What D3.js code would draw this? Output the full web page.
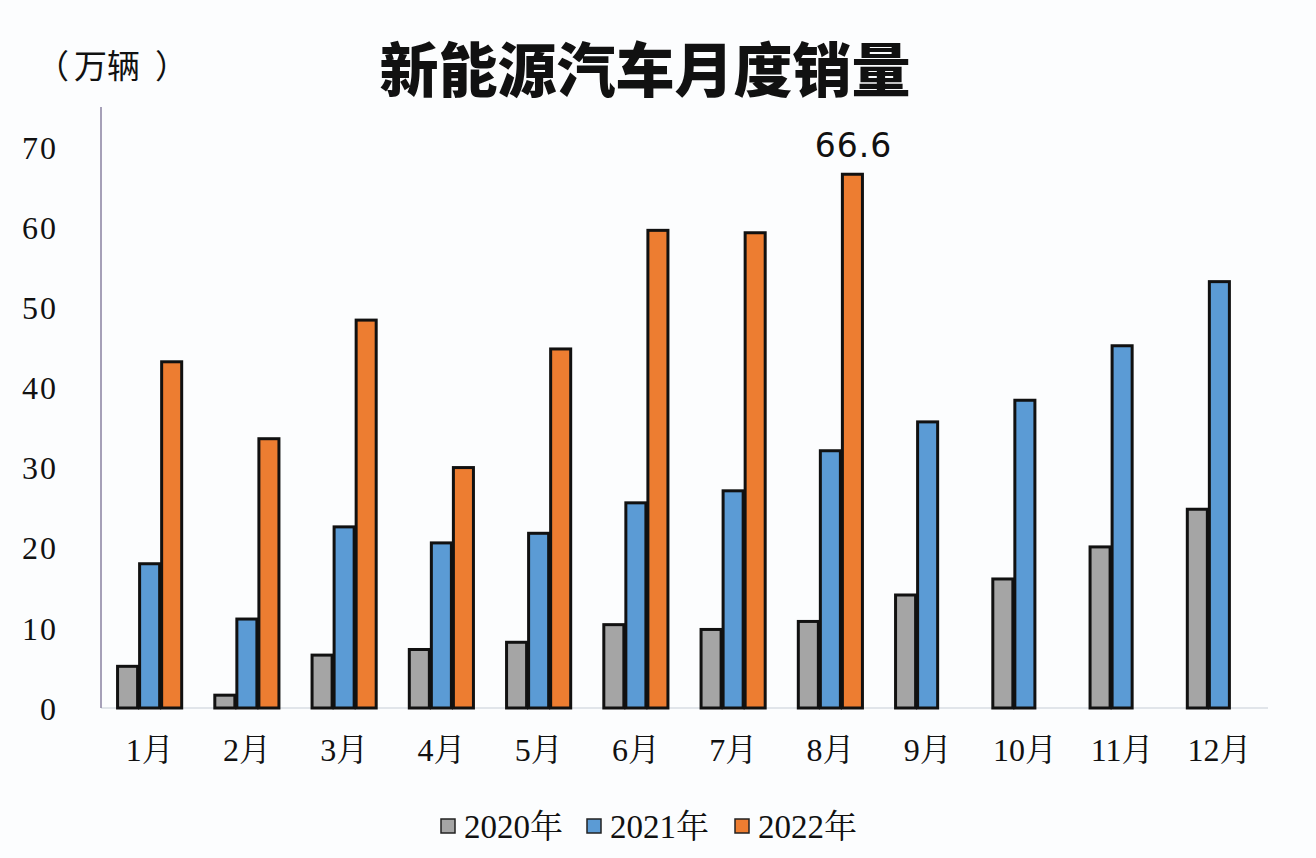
<!DOCTYPE html>
<html><head><meta charset="utf-8">
<script src="https://cdn.jsdelivr.net/npm/d3@7"></script>
<style>html,body{margin:0;padding:0;background:#fcfdfe;}</style>
</head><body>
<svg id="c" width="1316" height="858"></svg>
<script>
const months = ["1月","2月","3月","4月","5月","6月","7月","8月","9月","10月","11月","12月"];
const seriesNames = ["2020年","2021年","2022年"];
const sales2020 = [5.2,1.6,6.6,7.3,8.2,10.4,9.8,10.8,14.1,16.1,20.1,24.8];
const sales2021 = [18.0,11.1,22.6,20.6,21.8,25.6,27.1,32.1,35.7,38.4,45.2,53.2];
const sales2022 = [43.2,33.6,48.4,30.0,44.8,59.6,59.3,66.6,null,null,null,null];
const yTicks = [0,10,20,30,40,50,60,70];
const colors = ["#a5a5a5","#5b9bd5","#ed7d31"];
const labelled = {series:2, index:7, text:"66.6"};

const svg = d3.select("#c");
const x = d3.scaleBand().domain(months).range([101,1268]).paddingInner(0.32).paddingOuter(0.16);
const x1 = d3.scaleBand().domain(seriesNames).range([0,x.bandwidth()]);
const y = d3.scaleLinear().domain([0,70]).range([708,147]);

const serif = "'Liberation Serif','Times New Roman','Noto Serif CJK SC','Noto Sans CJK SC',serif";

svg.append("line").attr("x1",101).attr("x2",1268).attr("y1",y(0)).attr("y2",y(0))
  .attr("stroke","#d9dde3").attr("stroke-width",1.5);
svg.append("line").attr("x1",101).attr("x2",101).attr("y1",107).attr("y2",y(0))
  .attr("stroke","#8a80a0").attr("stroke-width",1.5);

const yAxis = d3.axisLeft(y).tickValues(yTicks).tickSize(0).tickPadding(0);
const ga = svg.append("g").attr("transform","translate(58,0)").call(yAxis);
ga.select(".domain").remove();
ga.selectAll("text").attr("font-family",serif).attr("font-size",32).attr("letter-spacing",2)
  .attr("fill","#111").attr("dy","0.35em");

const xAxis = d3.axisBottom(x).tickSize(0).tickPadding(0);
const gx = svg.append("g").attr("transform","translate(0,750)").call(xAxis);
gx.select(".domain").remove();
gx.selectAll("text").attr("font-family",serif).attr("font-size",32).attr("fill","#111").attr("dy","0.35em");

const data = [sales2020, sales2021, sales2022];
data.forEach((arr,si)=>{
  svg.append("g").selectAll("rect").data(arr.map((v,i)=>({v,i})).filter(d=>d.v!=null))
    .join("rect")
    .attr("x",d=>x(months[d.i])+x1(seriesNames[si])+1)
    .attr("width",x1.bandwidth()-2)
    .attr("y",d=>y(d.v))
    .attr("height",d=>y(0)-y(d.v))
    .attr("fill",colors[si]).attr("stroke","#111").attr("stroke-width",3);
});

svg.append("text")
  .attr("x",x(months[labelled.index])+x1(seriesNames[labelled.series])+x1.bandwidth()/2+1)
  .attr("y",y(data[labelled.series][labelled.index])-17)
  .attr("text-anchor","middle").attr("font-family","'DejaVu Sans','Noto Sans',sans-serif")
  .attr("font-size",33).attr("letter-spacing",1).attr("fill","#111").text(labelled.text);

svg.append("text").attr("x",645).attr("y",92).attr("text-anchor","middle")
  .attr("font-family","'Noto Sans CJK SC',sans-serif").attr("font-weight",900)
  .attr("font-size",59).attr("fill","#111").text("新能源汽车月度销量");

const unit = svg.append("text").attr("y",78)
  .attr("font-family","'Noto Sans CJK SC',sans-serif").attr("font-weight",400)
  .attr("font-size",33).attr("fill","#111");
unit.append("tspan").attr("x",36).text("（");
unit.append("tspan").attr("x",74).text("万辆");
unit.append("tspan").attr("x",155).text("）");

const leg = svg.append("g").attr("transform","translate(441,826)");
const legX = [0,146,294];
seriesNames.forEach((n,i)=>{
  const g = leg.append("g").attr("transform",`translate(${legX[i]},0)`);
  g.append("rect").attr("x",0).attr("y",-7).attr("width",14).attr("height",14)
    .attr("fill",colors[i]).attr("stroke","#222").attr("stroke-width",1.5);
  g.append("text").attr("x",23).attr("y",0).attr("dy","0.35em")
    .attr("font-family",serif).attr("font-size",33).attr("fill","#111").text(n);
});
</script>
</body></html>
